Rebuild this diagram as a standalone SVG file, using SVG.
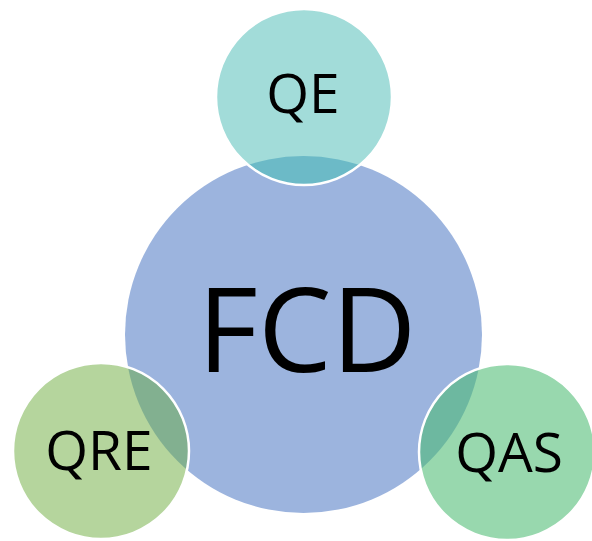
<svg xmlns="http://www.w3.org/2000/svg" width="592" height="541" viewBox="0 0 592 541">
<style>
  .lbl { font-family: "Open Sans", "Liberation Sans", sans-serif; fill: #000; text-anchor: middle; }
  .small { font-size: 55px; }
  .big { font-size: 117px; }
  .ring { fill: none; stroke: #ffffff; stroke-width: 2.5; }
</style>
<defs>
  <clipPath id="bigClip"><circle cx="303.5" cy="334.5" r="178.5"/></clipPath>
</defs>
<rect width="592" height="541" fill="#ffffff"/>
<g id="FCD">
  <circle cx="303.5" cy="334.5" r="178.5" fill="#9cb4de"/>
  <text class="lbl big" x="307" y="372">FCD</text>
</g>
<g id="QE">
  <circle cx="304" cy="97" r="88" fill="#a2dcd9"/>
  <circle cx="304" cy="97" r="88" fill="#6cbac7" clip-path="url(#bigClip)"/>
  <circle class="ring" cx="304" cy="97" r="88"/>
  <text class="lbl small" x="303" y="113">QE</text>
</g>
<g id="QRE">
  <circle cx="101" cy="451" r="88" fill="#b5d59d"/>
  <circle cx="101" cy="451" r="88" fill="#82b090" clip-path="url(#bigClip)"/>
  <circle class="ring" cx="101" cy="451" r="88"/>
  <text class="lbl small" x="99" y="470">QRE</text>
</g>
<g id="QAS">
  <circle cx="507" cy="452" r="88" fill="#98d8ae"/>
  <circle cx="507" cy="452" r="88" fill="#6db8a0" clip-path="url(#bigClip)"/>
  <circle class="ring" cx="507" cy="452" r="88"/>
  <text class="lbl small" x="509" y="472">QAS</text>
</g>
<g id="connectors"></g>
</svg>
